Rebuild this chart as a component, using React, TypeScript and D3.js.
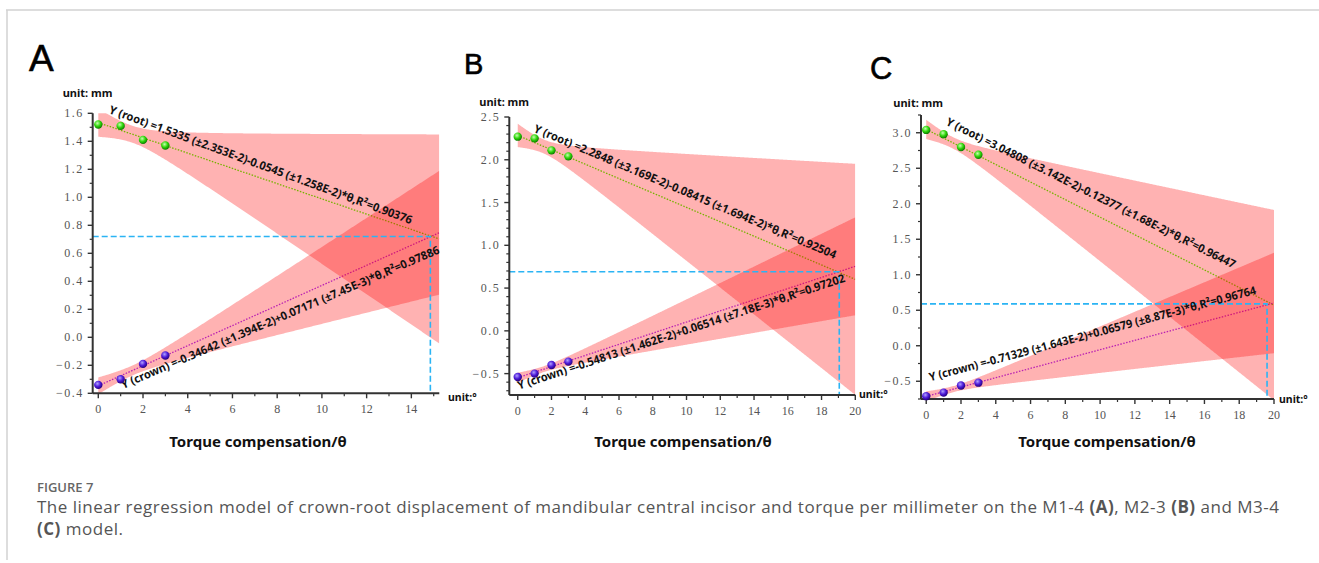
import React, { useEffect, useRef } from 'react';
import * as d3 from 'd3';

// panels of the figure
const panels = ['A', 'B', 'C'];
const theta = [0, 1, 2, 3];

// measured displacement (mm) per torque compensation step
const rootA = [1.52, 1.51, 1.41, 1.37];
const crownA = [-0.34, -0.3, -0.19, -0.13];
const rootB = [2.27, 2.25, 2.11, 2.04];
const crownB = [-0.54, -0.5, -0.4, -0.36];
const rootC = [3.04, 2.98, 2.8, 2.69];
const crownC = [-0.71, -0.66, -0.56, -0.52];
const rootPoints = [rootA, rootB, rootC];
const crownPoints = [crownA, crownB, crownC];

// fitted models, as printed on the chart
const rootIntercept = [1.5335, 2.2848, 3.04808];
const rootSlope = [-0.0545, -0.08415, -0.12377];
const rootSlopeSE = [0.01258, 0.01694, 0.0168];
const crownIntercept = [-0.34642, -0.54813, -0.71329];
const crownSlope = [0.07171, 0.06514, 0.06579];
const crownSlopeSE = [0.00745, 0.00718, 0.00887];

const rootLabels = [
  'Y (root) =1.5335 (±2.353E-2)-0.0545 (±1.258E-2)*θ,R²=0.90376',
  'Y (root) =2.2848 (±3.169E-2)-0.08415 (±1.694E-2)*θ,R²=0.92504',
  'Y (root) =3.04808 (±3.142E-2)-0.12377 (±1.68E-2)*θ,R²=0.96447',
];
const crownLabels = [
  'Y (crown) =-0.34642 (±1.394E-2)+0.07171 (±7.45E-3)*θ,R²=0.97886',
  'Y (crown) =-0.54813 (±1.462E-2)+0.06514 (±7.18E-3)*θ,R²=0.97202',
  'Y (crown) =-0.71329 (±1.643E-2)+0.06579 (±8.87E-3)*θ,R²=0.96764',
];

// where crown and root displacement meet
const crossTheta = [14.85, 19.05, 19.6];
const crossDisp = [0.72, 0.69, 0.59];

// axes
const xMin = [-0.25, -0.5, -0.3];
const xMax = [15.25, 20, 20];
const yMin = [-0.4, -0.75, -0.75];
const yMax = [1.6, 2.5, 3.25];
const yMajor = [0.2, 0.5, 0.5];
const yMinor = [0.1, 0.1, 0.25];

const tCrit = 4.303; // 95%, df = 2

const layout = [
  { left: 92.7, right: 439.3, top: 113.3, bottom: 393.3, letter: [29, 70.5, 37], mm: [62.7, 96.5], deg: [448, 401], title: 258,
    rootLbl: [0.45, 1.602, 20.2, 322], crownLbl: [1.115, -0.369, -23.2, 345] },
  { left: 509.3, right: 855.3, top: 117, bottom: 395, letter: [464, 74.3, 29], mm: [479.3, 106], deg: [859, 398], title: 683,
    rootLbl: [0.906, 2.328, 22.9, 327], crownLbl: [0.08, -0.687, -18.3, 344] },
  { left: 921, right: 1274, top: 115, bottom: 399, letter: [870, 79.3, 31], mm: [893.3, 107], deg: [1279, 403], title: 1107,
    rootLbl: [1.09, 3.117, 26.6, 322], crownLbl: [0.23, -0.5, -15, 338] },
];

const App: React.FC = () => {
  const svgRef = useRef<SVGSVGElement>(null);

  useEffect(() => {
    if (!svgRef.current) return;
    const svg = d3.select(svgRef.current);
    svg.selectAll('*').remove();
    const defs = svg.append('defs');

    const ball = (id: string, c0: string, c1: string, c2: string) => {
      const gr = defs.append('radialGradient').attr('id', id)
        .attr('cx', '40%').attr('cy', '35%').attr('r', '65%');
      gr.append('stop').attr('offset', '0%').attr('stop-color', c0);
      gr.append('stop').attr('offset', '55%').attr('stop-color', c1);
      gr.append('stop').attr('offset', '100%').attr('stop-color', c2);
    };
    ball('dotRoot', '#c8ffb0', '#2fd60a', '#0c7a00');
    ball('dotCrown', '#b0a0ff', '#4d1ad8', '#24007c');

    // card frame
    svg.append('line').attr('x1', 6).attr('y1', 10).attr('x2', 1319).attr('y2', 10)
      .attr('stroke', '#d2d2d2').attr('stroke-width', 1.5);
    svg.append('line').attr('x1', 7).attr('y1', 10).attr('x2', 7).attr('y2', 560)
      .attr('stroke', '#d2d2d2').attr('stroke-width', 1.5);

    const n = theta.length;
    const meanT = d3.mean(theta) as number;
    const sxx = d3.sum(theta, t => (t - meanT) ** 2);

    panels.forEach((name, i) => {
      const L = layout[i];
      const x = d3.scaleLinear().domain([xMin[i], xMax[i]]).range([L.left, L.right]);
      const y = d3.scaleLinear().domain([yMin[i], yMax[i]]).range([L.bottom, L.top]);
      const g = svg.append('g');

      const clipId = `clip${name}`;
      defs.append('clipPath').attr('id', clipId).append('rect')
        .attr('x', L.left).attr('y', L.top)
        .attr('width', L.right - L.left).attr('height', L.bottom - L.top);
      const plot = g.append('g').attr('clip-path', `url(#${clipId})`);

      const fits = [
        { a: rootIntercept[i], b: rootSlope[i], se: rootSlopeSE[i], color: '#3dff00' },
        { a: crownIntercept[i], b: crownSlope[i], se: crownSlopeSE[i], color: '#9c30ff' },
      ];
      const ts = d3.range(0, xMax[i] + 0.001, 0.05);

      // fitted lines (under the bands, so they tint)
      fits.forEach(f => {
        plot.append('path')
          .attr('d', d3.line<number>().x(t => x(t)).y(t => y(f.a + f.b * t))([0, xMax[i]]))
          .attr('fill', 'none').attr('stroke', f.color)
          .attr('stroke-width', 1.3).attr('stroke-dasharray', '1.5 1.5');
      });

      // 95% confidence bands
      fits.forEach(f => {
        const s = f.se * Math.sqrt(sxx);
        const half = (t: number) => tCrit * s * Math.sqrt(1 / n + (t - meanT) ** 2 / sxx);
        plot.append('path')
          .attr('d', d3.area<number>()
            .x(t => x(t))
            .y0(t => y(f.a + f.b * t - half(t)))
            .y1(t => y(f.a + f.b * t + half(t)))(ts))
          .attr('fill', '#ff0000').attr('fill-opacity', 0.3);
      });

      // crossing guides
      const cx = x(crossTheta[i]);
      const cy = y(crossDisp[i]);
      g.append('path')
        .attr('d', `M${L.left},${cy}H${cx}V${L.bottom}`)
        .attr('fill', 'none').attr('stroke', '#2bb4f4')
        .attr('stroke-width', 1.6).attr('stroke-dasharray', '6 3');

      // axes
      const axis = g.append('g').attr('stroke', '#333');
      axis.append('line').attr('x1', L.left).attr('x2', L.left).attr('y1', L.top).attr('y2', L.bottom).attr('stroke-width', 2);
      axis.append('line').attr('x1', L.left).attr('x2', L.right).attr('y1', L.bottom).attr('y2', L.bottom).attr('stroke-width', 2);

      const eps = 1e-6;
      const yMaj = d3.range(Math.ceil(yMin[i] / yMajor[i] - eps) * yMajor[i], yMax[i] + eps, yMajor[i]);
      const yMin2 = d3.range(Math.ceil(yMin[i] / yMinor[i] - eps) * yMinor[i], yMax[i] + eps, yMinor[i])
        .filter(v => yMaj.every(m => Math.abs(m - v) > eps));
      const xMaj = d3.range(0, xMax[i] + eps, 2);
      const xMin2 = d3.range(1, xMax[i] + eps, 2);

      yMaj.forEach(v => axis.append('line').attr('x1', L.left - 5).attr('x2', L.left).attr('y1', y(v)).attr('y2', y(v)).attr('stroke-width', 1.4));
      yMin2.forEach(v => axis.append('line').attr('x1', L.left - 3).attr('x2', L.left).attr('y1', y(v)).attr('y2', y(v)).attr('stroke-width', 1.2));
      xMaj.forEach(v => axis.append('line').attr('x1', x(v)).attr('x2', x(v)).attr('y1', L.bottom).attr('y2', L.bottom + 5).attr('stroke-width', 1.4));
      xMin2.forEach(v => axis.append('line').attr('x1', x(v)).attr('x2', x(v)).attr('y1', L.bottom).attr('y2', L.bottom + 3).attr('stroke-width', 1.2));

      const fmt = d3.format('.1f');
      yMaj.forEach(v => g.append('text')
        .attr('x', L.left - 9).attr('y', y(v) + 4)
        .attr('text-anchor', 'end').attr('font-family', 'Liberation Serif').attr('font-size', 12)
        .attr('letter-spacing', 1.5).attr('fill', '#555')
        .text(fmt(Math.abs(v) < eps ? 0 : v)));
      xMaj.forEach(v => g.append('text')
        .attr('x', x(v)).attr('y', L.bottom + 20)
        .attr('text-anchor', 'middle').attr('font-family', 'Liberation Serif').attr('font-size', 12)
        .attr('fill', '#555').text(String(v)));

      // equations along the lines
      const eq = (p: number[], txt: string) => g.append('text')
        .attr('transform', `translate(${x(p[0])},${y(p[1])}) rotate(${p[2]})`)
        .attr('textLength', p[3]).attr('lengthAdjust', 'spacingAndGlyphs')
        .attr('font-family', 'Noto Sans').attr('font-weight', 'bold').attr('font-size', 11.5)
        .attr('fill', '#111').text(txt);
      eq(L.rootLbl, rootLabels[i]);
      eq(L.crownLbl, crownLabels[i]);

      // measured points
      theta.forEach((t, k) => {
        g.append('circle').attr('cx', x(t)).attr('cy', y(rootPoints[i][k])).attr('r', 4.2)
          .attr('fill', 'url(#dotRoot)');
        g.append('circle').attr('cx', x(t)).attr('cy', y(crownPoints[i][k])).attr('r', 4.2)
          .attr('fill', 'url(#dotCrown)');
      });

      // labels
      g.append('text').attr('x', L.letter[0]).attr('y', L.letter[1])
        .attr('font-family', 'Liberation Sans').attr('font-size', L.letter[2]).attr('fill', '#000')
        .attr('stroke', '#000').attr('stroke-width', 0.6).text(name);
      g.append('text').attr('x', L.mm[0]).attr('y', L.mm[1])
        .attr('font-family', 'Noto Sans').attr('font-weight', 'bold').attr('font-size', 11)
        .attr('fill', '#111').text('unit: mm');
      g.append('text').attr('x', L.deg[0]).attr('y', L.deg[1])
        .attr('font-family', 'Noto Sans').attr('font-weight', 'bold').attr('font-size', 10.5)
        .attr('fill', '#111').text('unit:°');
      g.append('text').attr('x', L.title).attr('y', 447)
        .attr('text-anchor', 'middle').attr('font-family', 'Noto Sans').attr('font-weight', 'bold')
        .attr('font-size', 15).attr('fill', '#111').text('Torque compensation/θ');
    });

    // caption
    svg.append('text').attr('x', 37).attr('y', 492)
      .attr('font-family', 'Open Sans').attr('font-weight', 600).attr('font-size', 13)
      .attr('fill', '#666').text('FIGURE 7');
    const cap1 = svg.append('text').attr('x', 37).attr('y', 513)
      .attr('font-family', 'Open Sans').attr('font-size', 17).attr('letter-spacing', 0.5).attr('fill', '#555');
    const parts: [string, boolean][] = [
      ['The linear regression model of crown-root displacement of mandibular central incisor and torque per millimeter on the M1-4 ', false],
      ['(A)', true], [', M2-3 ', false], ['(B)', true], [' and M3-4', false],
    ];
    parts.forEach(([s, b]) => cap1.append('tspan').attr('font-weight', b ? 'bold' : 'normal').text(s));
    const cap2 = svg.append('text').attr('x', 37).attr('y', 535)
      .attr('font-family', 'Open Sans').attr('font-size', 17).attr('letter-spacing', 0.5).attr('fill', '#555');
    cap2.append('tspan').attr('font-weight', 'bold').text('(C)');
    cap2.append('tspan').text(' model.');
  }, []);

  return (
    <svg ref={svgRef} width={1319} height={563}
      style={{ position: 'absolute', left: 0, top: 0, background: '#fff', display: 'block' }} />
  );
};

export default App;
